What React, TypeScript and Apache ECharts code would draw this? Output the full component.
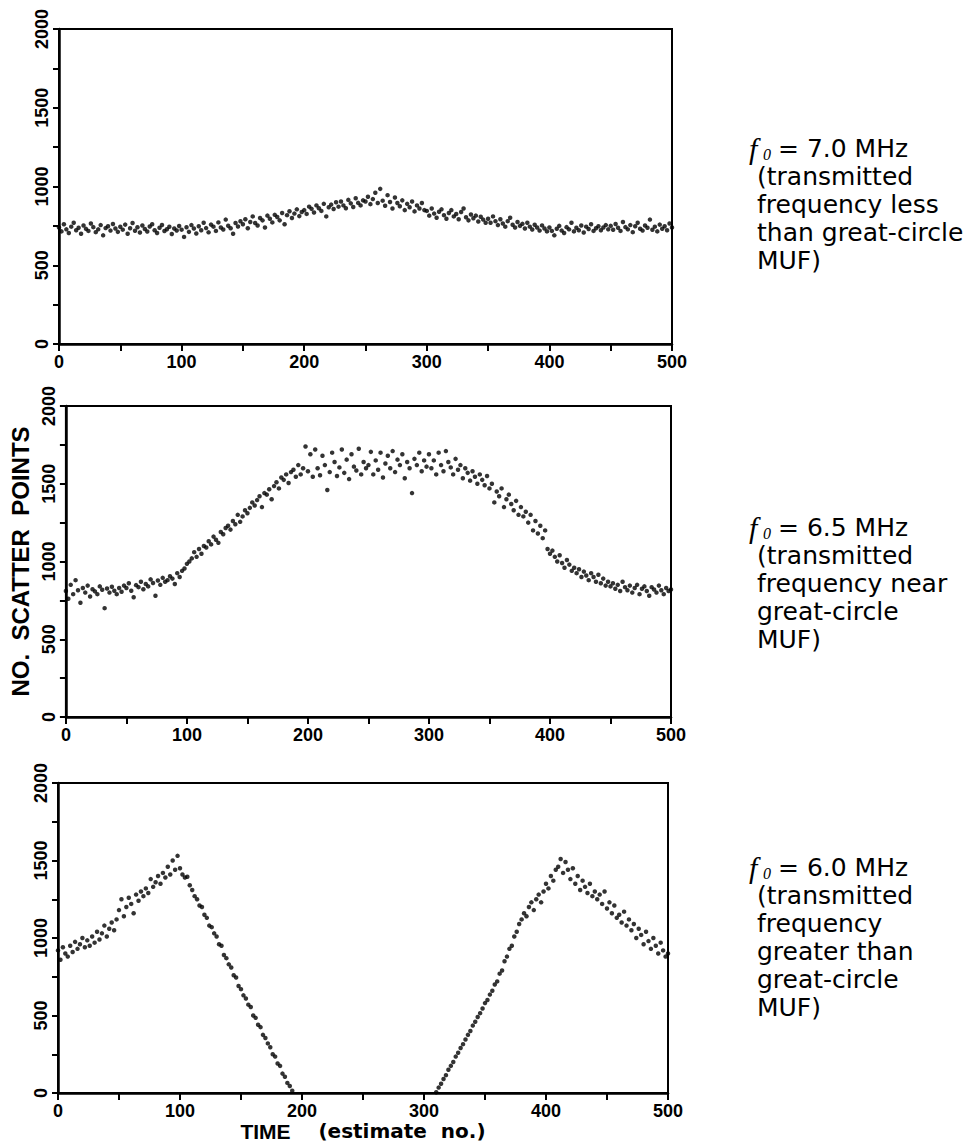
import React, { useEffect, useRef } from "react";
import * as echarts from "echarts";

// x positions: estimate number, every 2nd estimate
const STEP = 2;

// Panel 1: f0 = 7.0 MHz, estimates 0..500
const p1Values = [
  740, 715, 760, 728, 705, 745, 770, 722, 738, 700, 752, 731, 718, 765, 742, 710, 728, 755, 690, 736, 748, 720, 762, 733, 712,
  744, 726, 758, 700, 735, 768, 719, 741, 708, 752, 730, 714, 746, 760, 722, 705, 738, 756, 717, 729, 744, 698, 733, 721, 749,
  726, 680, 741, 712, 755, 733, 702, 748, 722, 770, 736, 709, 758, 745, 718, 772, 740, 727, 790, 751, 735, 700, 768, 746, 779,
  760, 792, 735, 775, 810, 768, 752, 800, 785, 740, 815, 795, 772, 820, 806, 785, 832, 760, 818, 843, 800, 828, 855, 812, 838,
  850, 826, 872, 858, 835, 880, 862, 845, 890, 810, 868, 885, 857, 900, 872, 905, 880, 862, 915, 893, 870, 925, 896, 880, 912,
  905, 935, 888, 920, 960, 895, 985, 910, 878, 945, 902, 860, 930, 895, 875, 912, 850, 890, 868, 905, 842, 880, 860, 895, 850,
  845, 815, 860, 828, 802, 840, 855, 818, 795, 832, 850, 810, 825, 792, 838, 860, 805, 785, 822, 798, 815, 778, 808, 790, 770,
  795, 770, 810, 780, 755, 792, 765, 745, 780, 802, 757, 740, 775, 750, 763, 733, 770, 745, 727, 757, 740, 720, 753, 733, 715,
  740, 718, 690, 732, 750, 720, 705, 742, 728, 770, 715, 738, 722, 752, 708, 745, 730, 760, 718, 735, 748, 722, 740, 755, 728,
  750, 725, 762, 738, 718, 775, 742, 728, 755, 710, 748, 770, 732, 720, 752, 738, 790, 725, 745, 715, 758, 732, 748, 722, 765, 740,
];

// Panel 2: f0 = 6.5 MHz, estimates 0..500
const p2Values = [
  810, 760, 850, 790, 880, 815, 735, 830, 800, 845, 775, 822, 808, 790, 840, 818, 700, 826, 800, 838, 812, 790, 830, 805, 845,
  830, 860, 812, 770, 848, 835, 870, 822, 855, 840, 885, 862, 780, 878, 850, 895, 870, 880, 905, 890, 855, 925, 900, 940, 955,
  985, 1000, 1020, 1060, 1030, 1080, 1050, 1100, 1090, 1130, 1110, 1160, 1140, 1120, 1190, 1175, 1215, 1230, 1205, 1260, 1240, 1300, 1255, 1290, 1330,
  1310, 1345, 1380, 1360, 1395, 1420, 1350, 1440, 1430, 1465, 1400, 1485, 1510, 1470, 1540, 1525, 1560, 1505, 1575, 1590, 1545, 1620, 1560, 1600, 1740,
  1580, 1690, 1545, 1720, 1600, 1555, 1680, 1620, 1460, 1575, 1700, 1640, 1550, 1605, 1720, 1570, 1655, 1530, 1690, 1610, 1585, 1725, 1560, 1640, 1600,
  1620, 1705, 1560, 1650, 1590, 1700, 1540, 1630, 1680, 1600, 1710, 1575, 1655, 1620, 1690, 1535, 1640, 1600, 1440, 1660, 1620, 1700, 1580, 1650, 1610,
  1690, 1600, 1650, 1560, 1700, 1620, 1580, 1710, 1640, 1605, 1560, 1660, 1590, 1620, 1535, 1600, 1570, 1520, 1580, 1545, 1500, 1560, 1525, 1490, 1550,
  1470, 1500, 1380, 1450, 1420, 1470, 1350, 1400, 1430, 1370, 1330, 1390, 1300, 1350, 1290, 1320, 1250, 1300, 1200, 1260, 1180, 1230, 1150, 1200, 1080,
  1050, 1070, 1030, 1000, 1040, 990, 960, 1010, 980, 940, 960, 925, 950, 900, 935, 910, 880, 925, 900, 870, 915, 860, 890, 845, 870,
  840, 860, 825, 850, 810, 870, 835, 815, 845, 800, 830, 850, 790, 825, 840, 810, 780, 835, 820, 800, 845, 815, 790, 830, 810, 820,
];

// Panel 3: f0 = 6.0 MHz, estimates 0..192 and 310..500 (zero in between)
const p3LeftStart = 0;
const p3Left = [
  920, 860, 940, 900, 880, 950, 910, 975, 930, 960, 1000, 940, 985, 950, 1010, 970, 1040, 990, 1030, 1080, 1010, 1060, 1100, 1050, 1120,
  1180, 1250, 1140, 1200, 1260, 1220, 1160, 1280, 1240, 1300, 1270, 1320, 1290, 1380, 1330, 1360, 1400, 1350, 1420, 1390, 1460, 1410, 1500, 1440, 1530,
  1450, 1410, 1390, 1395, 1340, 1310, 1270, 1250, 1210, 1200, 1150, 1130, 1080, 1070, 1030, 1010, 960, 950, 890, 870, 830, 810, 760, 745, 690,
  670, 630, 610, 570, 555, 500, 485, 440, 425, 375, 355, 320, 295, 250, 235, 190, 175, 125, 105, 65, 45, 15,
];
const p3RightStart = 310;
const p3Right = [
  5, 35, 60, 90, 115, 150, 175, 200, 235, 260, 290, 315, 345, 375, 400, 435, 460, 490, 515, 545, 580, 600, 635, 660, 700,
  720, 770, 790, 850, 880, 930, 950, 1010, 1040, 1090, 1120, 1160, 1140, 1200, 1230, 1180, 1250, 1280, 1230, 1300, 1350, 1320, 1400, 1370, 1440,
  1460, 1510, 1420, 1490, 1440, 1380, 1450, 1350, 1400, 1310, 1370, 1330, 1290, 1350, 1270, 1300, 1250, 1280, 1220, 1300, 1190, 1230, 1160, 1210, 1130,
  1150, 1100, 1170, 1080, 1120, 1050, 1090, 1000, 1060, 1020, 960, 1040, 980, 930, 1000, 950, 900, 970, 920, 880, 900,
];

// Annotations
const freqs = ["7.0", "6.5", "6.0"];
const notes = [
  ["(transmitted", "frequency less", "than great-circle", "MUF)"],
  ["(transmitted", "frequency near", "great-circle", "MUF)"],
  ["(transmitted", "frequency", "greater than", "great-circle", "MUF)"],
];
const yTitle = "NO.  SCATTER  POINTS";

const toPairs = (start: number, vals: number[]) => vals.map((v, i) => [start + i * STEP, v]);

const grids = [
  { left: 59, top: 29, width: 613, height: 315 },
  { left: 59, top: 406, width: 612, height: 311 },
  { left: 58, top: 783, width: 610, height: 310 },
];
const noteTop = [148, 527, 867];

export default function App() {
  const ref = useRef<HTMLDivElement>(null);
  useEffect(() => {
    document.body.style.margin = "0";
    if (!ref.current) return;
    const chart = echarts.init(ref.current, undefined, { renderer: "svg" });
    const tickStyle = { color: "#000", width: 2 };
    const labelFont = { color: "#000", fontSize: 18, fontWeight: "bold" as const, fontFamily: "Liberation Sans" };
    const plain = (v: number) => String(v);
    const xAxes = grids.map((_, i) => ({
      type: "value",
      gridIndex: i,
      min: 0,
      max: 500,
      interval: 100,
      axisLine: { show: true, onZero: false, lineStyle: { color: "#000", width: 2.5 } },
      axisTick: { show: true, length: 7, lineStyle: tickStyle },
      minorTick: { show: true, splitNumber: 2, length: 7, lineStyle: tickStyle },
      axisLabel: { ...labelFont, margin: 9, formatter: plain },
      splitLine: { show: false },
      ...(i === 2
        ? {
            name: "{t|TIME}{b|    (estimate  no.)}",
            nameLocation: "middle",
            nameGap: 19,
            nameTextStyle: {
              rich: {
                t: { fontSize: 21, fontWeight: "bold", fontFamily: "Liberation Sans", color: "#000" },
                b: { fontSize: 20, fontWeight: "bold", fontFamily: "DejaVu Sans", color: "#000" },
              },
            },
          }
        : {}),
    }));
    const yAxes = grids.map((_, i) => ({
      type: "value",
      gridIndex: i,
      min: 0,
      max: 2000,
      interval: 500,
      axisLine: { show: true, onZero: false, lineStyle: { color: "#000", width: 2.5 } },
      axisTick: { show: true, length: 6, lineStyle: tickStyle },
      minorTick: { show: true, splitNumber: 2, length: 6, lineStyle: tickStyle },
      axisLabel: { ...labelFont, rotate: 90, margin: 8, formatter: plain },
      splitLine: { show: false },
      ...(i === 1
        ? {
            name: yTitle,
            nameLocation: "middle",
            nameRotate: 90,
            nameGap: 28,
            nameTextStyle: { fontSize: 24, fontWeight: "bold", fontFamily: "Liberation Sans", color: "#000" },
          }
        : {}),
    }));
    const seriesData = [
      [toPairs(0, p1Values)],
      [toPairs(0, p2Values)],
      [toPairs(p3LeftStart, p3Left), toPairs(p3RightStart, p3Right)],
    ];
    const series: any[] = [];
    seriesData.forEach((parts, gi) => {
      parts.forEach((d) => {
        series.push({
          type: "scatter",
          xAxisIndex: gi,
          yAxisIndex: gi,
          data: d,
          symbol: "circle",
          symbolSize: 4.5,
          itemStyle: { color: "#000" },
          silent: true,
        });
      });
    });
    const graphic: any[] = [];
    freqs.forEach((f, gi) => {
      const y0 = noteTop[gi];
      graphic.push({
        type: "text", x: 749, y: y0,
        style: { text: "f", fill: "#000", fontSize: 30, lineHeight: 26, fontStyle: "italic", fontFamily: "Liberation Serif", textVerticalAlign: "middle" },
      });
      graphic.push({
        type: "text", x: 763, y: y0 + 6,
        style: { text: "0", fill: "#000", fontSize: 16, lineHeight: 14, fontStyle: "italic", fontFamily: "Liberation Serif", textVerticalAlign: "middle" },
      });
      graphic.push({
        type: "text", x: 778, y: y0,
        style: { text: "= " + f + " MHz", fill: "#000", fontSize: 25, lineHeight: 24, fontFamily: "DejaVu Sans", textVerticalAlign: "middle" },
      });
      notes[gi].forEach((line, li) => {
        graphic.push({
          type: "text", x: 757, y: y0 + 28 * (li + 1),
          style: { text: line, fill: "#000", fontSize: 25, lineHeight: 24, fontFamily: "DejaVu Sans", textVerticalAlign: "middle" },
        });
      });
    });
    chart.setOption({
      animation: false,
      backgroundColor: "#fff",
      grid: grids.map((g) => ({ ...g, show: true, borderColor: "#000", borderWidth: 2, backgroundColor: "transparent", containLabel: false })),
      xAxis: xAxes,
      yAxis: yAxes,
      series,
      graphic,
    });
    return () => chart.dispose();
  }, []);
  return <div ref={ref} style={{ width: 972, height: 1145 }} />;
}
